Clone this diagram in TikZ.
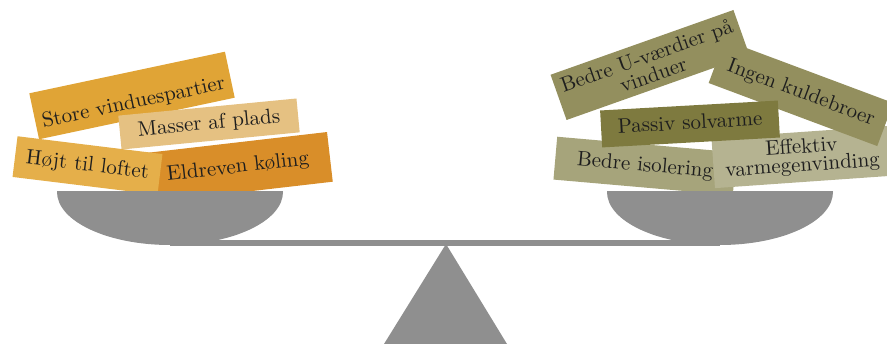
\documentclass[tikz,border=0pt]{standalone}
\usepackage{fontspec}
\setmainfont{lmroman10-regular.otf}
\definecolor{scalegray}{HTML}{8F8F8F}
\definecolor{cStore}{HTML}{E0A436}
\definecolor{cMasser}{HTML}{E5C182}
\definecolor{cHojt}{HTML}{E5AF4A}
\definecolor{cEld}{HTML}{D98E29}
\definecolor{cOlive}{HTML}{938F5E}
\definecolor{cPassiv}{HTML}{7E7A3F}
\definecolor{cIsol}{HTML}{A6A47B}
\definecolor{cEff}{HTML}{B5B391}
\definecolor{txt}{HTML}{1E1E1E}
\begin{document}
\begin{tikzpicture}[x=1pt,y=-1pt,
  box/.style={inner sep=0pt, font=\fontsize{21}{18.5}\selectfont, text=txt},
  oneline/.style={box, text height=14.5pt, text depth=4pt},
  twoline/.style={box, align=center},
  scalepart/.style={fill=scalegray, draw=none}]
\useasboundingbox (0,0) rectangle (887,344);
\clip (0,0) rectangle (887,344);
% beam and stand
\fill[scalepart] (170,240) rectangle (720,246);
\fill[scalepart] (446,244) -- (507,344) -- (384,344) -- cycle;
% left stack
\node[oneline, fill=cStore, minimum width=200pt, minimum height=47pt, rotate=12, text height=26pt, text depth=0pt] (store) at (132,95.5) {Store vinduespartier};
\node[oneline, fill=cMasser, minimum width=179pt, minimum height=34pt, rotate=5.5] (masser) at (209,124) {Masser af plads};
\node[oneline, fill=cEld, minimum width=185pt, minimum height=50pt, rotate=6.6] (eld) at (238,167.5) {Eldreven køling};
\node[oneline, fill=cHojt, minimum width=146pt, minimum height=41pt, rotate=-7] (hojt) at (87.5,165.5) {Højt til loftet};
% right stack
\node[oneline, fill=cIsol, minimum width=180pt, minimum height=43pt, rotate=-5] (isol) at (645,166) {Bedre isolering};
\node[twoline, fill=cEff, minimum width=178pt, minimum height=50pt, rotate=4] (eff) at (802,157) {Effektiv\\varmegenvinding};
\node[oneline, fill=cOlive, minimum width=180pt, minimum height=46pt, rotate=-20.5] (ingen) at (801,93) {};
\node[twoline, fill=cOlive, minimum width=194pt, minimum height=48pt, rotate=19.5] (uvaerdi) at (650,65) {Bedre U-værdier på\\vinduer};
\node[oneline, rotate=-20.5] (ingenlabel) at (ingen.center) {Ingen kuldebroer};
\node[oneline, fill=cPassiv, minimum width=178pt, minimum height=37pt, rotate=3.2] (passiv) at (690,124) {Passiv solvarme};
% pans
\begin{scope}
  \clip (50,192) rectangle (290,250);
  \fill[scalepart] (170,192) ellipse [x radius=113, y radius=53];
\end{scope}
\begin{scope}
  \clip (600,192) rectangle (840,250);
  \fill[scalepart] (720,192) ellipse [x radius=113, y radius=53];
\end{scope}
\end{tikzpicture}
\end{document}
